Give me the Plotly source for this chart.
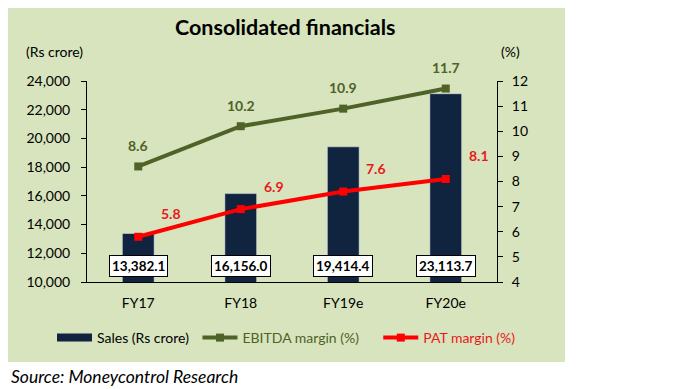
import plotly.graph_objects as go

categories = ["FY17", "FY18", "FY19e", "FY20e"]
sales = [13382.1, 16156.0, 19414.4, 23113.7]
ebitda_margin = [8.6, 10.2, 10.9, 11.7]
pat_margin = [5.8, 6.9, 7.6, 8.1]

FONT = "Lato, Open Sans, sans-serif"
GREEN_BG = "#D7E4BD"
OLIVE = "#4F6228"
NAVY = "#10233F"
RED = "#FF0000"
NB = "&nbsp;"

OFF = 8  # default page body margin
W, H = 700, 389
PL, PT, PW, PH = 87, 81, 410, 201  # plot area in page pixels
L, T = PL - OFF, PT - OFF
R = W - L - PW
B = H - T - PH

def px(x):
    return (x - PL) / PW

def py(y):
    return (PT + PH - y) / PH

fig = go.Figure()
fig.add_trace(go.Bar(x=categories, y=sales, name="Sales (Rs crore)", marker_color=NAVY,
                     width=0.31, yaxis="y", base=0, showlegend=False))
fig.add_trace(go.Scatter(x=[None], y=[None], name="Sales (Rs crore)" + NB, mode="lines",
                         line=dict(color=NAVY, width=8)))
fig.add_trace(go.Scatter(x=categories, y=ebitda_margin,
                         name=f"<span style='color:{OLIVE}'>EBITDA margin (%)</span>" + NB * 4, yaxis="y2",
                         mode="lines+markers", line=dict(color=OLIVE, width=4),
                         marker=dict(symbol="square", size=8, color=OLIVE)))
fig.add_trace(go.Scatter(x=categories, y=pat_margin,
                         name="<span style='color:#E8191C'>PAT margin (%)</span>", yaxis="y2",
                         mode="lines+markers", line=dict(color=RED, width=4),
                         marker=dict(symbol="square", size=8, color=RED)))

annotations = []
for c, v in zip(categories, ebitda_margin):
    annotations.append(dict(x=c, y=v, xref="x", yref="y2", text=f"{v:.1f}", showarrow=False,
                            yshift=21,
                            font=dict(color=OLIVE, size=14, family=FONT, weight="bold")))
for c, v in zip(categories, pat_margin):
    annotations.append(dict(x=c, y=v, xref="x", yref="y2", text=f"{v:.1f}", showarrow=False,
                            xshift=33, yshift=23,
                            font=dict(color="#E8191C", size=14, family=FONT, weight="bold")))
for c, v in zip(categories, sales):
    annotations.append(dict(x=c, y=11100, xref="x", yref="y", text=f"{v:,.1f}", showarrow=False,
                            bgcolor="white", bordercolor="black", borderwidth=1, borderpad=2,
                            font=dict(color="black", size=13.5, family=FONT, weight="bold")))
annotations += [
    dict(x=px(285), y=py(27), xref="paper", yref="paper", text="<b>Consolidated financials</b>",
         showarrow=False, xanchor="center", yanchor="middle",
         font=dict(size=21.5, family=FONT, color="black")),
    dict(x=px(54), y=py(51), xref="paper", yref="paper", text="(Rs crore)",
         showarrow=False, xanchor="center", yanchor="middle",
         font=dict(size=14, family=FONT, color="black")),
    dict(x=px(510), y=py(51), xref="paper", yref="paper", text="(%)",
         showarrow=False, xanchor="center", yanchor="middle",
         font=dict(size=14, family=FONT, color="black")),
    dict(x=px(9), y=py(376), xref="paper", yref="paper", text="<i>Source: Moneycontrol Research</i>",
         showarrow=False, xanchor="left", yanchor="middle",
         font=dict(size=17.5, family=FONT, color="black")),
]

fig.update_layout(
    width=W, height=H,
    margin=dict(l=L, r=R, t=T, b=B),
    paper_bgcolor="white", plot_bgcolor=GREEN_BG,
    font=dict(family=FONT, size=14, color="black"),
    shapes=[dict(type="rect", xref="paper", yref="paper", x0=px(3), x1=px(565), y0=py(362), y1=py(3),
                 fillcolor=GREEN_BG, line=dict(width=0), layer="below")],
    xaxis=dict(showline=True, linecolor="black", linewidth=1, ticks="", tickfont=dict(size=14),
               showgrid=False, ticklabelstandoff=8),
    yaxis=dict(range=[10000, 24000], dtick=2000, tickformat=",", showgrid=False, showline=True,
               linecolor="black", ticks="outside", ticklen=5, tickcolor="black", tickfont=dict(size=14),
               zeroline=False, ticklabelstandoff=8),
    yaxis2=dict(range=[4, 12], dtick=1, overlaying="y", side="right", showgrid=False, showline=True,
                linecolor="black", ticks="outside", ticklen=5, tickcolor="black", tickfont=dict(size=14),
                zeroline=False, ticklabelstandoff=6),
    legend=dict(orientation="h", x=px(52), y=py(338), yanchor="middle", xanchor="left",
                bgcolor="rgba(0,0,0,0)", font=dict(size=14), traceorder="normal", itemwidth=35,
                tracegroupgap=0),
    annotations=annotations,
)
fig.update_traces(cliponaxis=False, selector=dict(type="scatter"))

fig.write_html("out.html")
